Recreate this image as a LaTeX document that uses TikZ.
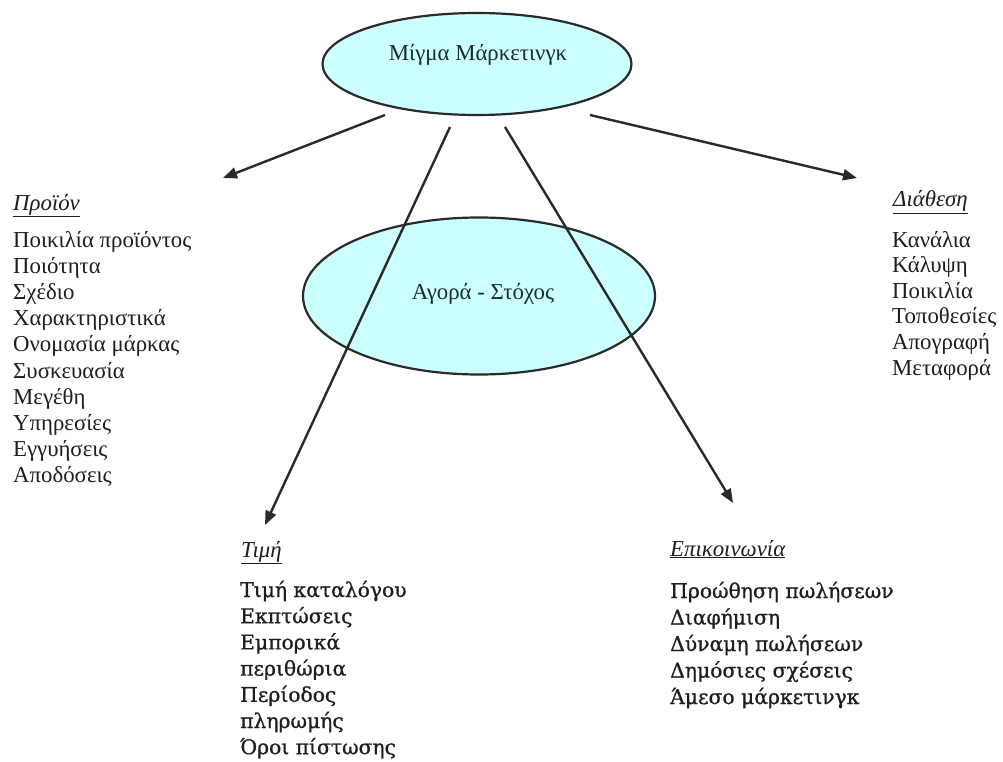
\documentclass[tikz,border=0pt]{standalone}
\usepackage{fontspec}
\setmainfont{Liberation Serif}
\newfontfamily\listfont[FakeBold=0.8]{DejaVu Serif}
\usetikzlibrary{arrows.meta,shapes.geometric}
\definecolor{ovalfill}{HTML}{CCFFFF}
\definecolor{textcol}{HTML}{1E1E1E}
\definecolor{linecol}{HTML}{2A2A2A}
\begin{document}
\begin{tikzpicture}[x=1pt,y=-1pt,
  oval/.style={ellipse, draw=linecol, line width=2.2pt, fill=ovalfill, inner sep=0pt},
  txt/.style={font=\fontsize{22.8}{26}\selectfont, text=textcol, inner sep=0pt, anchor=base west},
  blist/.style={font=\listfont\fontsize{20.3}{26}\selectfont, text=textcol, inner sep=0pt, anchor=base west},
  head/.style={font=\itshape\fontsize{22.8}{26}\selectfont, text=textcol, inner sep=0pt, anchor=base west},
  ovaltext/.style={font=\fontsize{22.8}{26}\selectfont, text=textcol!85!teal, inner sep=0pt},
  conn/.style={draw=linecol, line width=2.4pt, -{Triangle[length=14pt,width=11pt]}}
]
\useasboundingbox (0,0) rectangle (1003,762);
\fill[white] (0,0) rectangle (1003,762);

% ellipses
\node[oval, minimum width=309pt, minimum height=102pt] (mix) at (477,64) {};
\node[ovaltext] (mixtxt) at (478,55) {Μίγμα Μάρκετινγκ};
\node[oval, minimum width=352pt, minimum height=157pt] (target) at (479,296) {};
\node[ovaltext] (targettxt) at (483,294) {Αγορά - Στόχος};

% connector end points
\coordinate (s1) at (385,115);
\coordinate (e1) at (223,178);
\coordinate (s2) at (590,115);
\coordinate (e2) at (857,178);
\coordinate (s3) at (450,127);
\coordinate (e3) at (265,525);
\coordinate (s4) at (505,127);
\coordinate (e4) at (733,503);
\draw[conn] (s1) -- (e1);
\draw[conn] (s2) -- (e2);
\draw[conn] (s3) -- (e3);
\draw[conn] (s4) -- (e4);

% Product
\node[head] (hprod) at (13,210) {\underline{Προϊόν}};
\foreach \t [count=\i] in {Ποικιλία προϊόντος, Ποιότητα, Σχέδιο, Χαρακτηριστικά, Ονομασία μάρκας, Συσκευασία, Μεγέθη, Υπηρεσίες, Εγγυήσεις, Αποδόσεις}
  \node[txt] (prod\i) at (13,{247+26.2*(\i-1)}) {\t};

% Place
\node[head] (hplace) at (893,207) {\underline{Διάθεση}};
\foreach \t [count=\i] in {Κανάλια, Κάλυψη, Ποικιλία, Τοποθεσίες, Απογραφή, Μεταφορά}
  \node[txt] (place\i) at (892,{247+25.6*(\i-1)}) {\t};

% Price
\node[head] (hprice) at (241,557) {\underline{Τιμή}};
\foreach \t [count=\i] in {Τιμή καταλόγου, Εκπτώσεις, Εμπορικά, περιθώρια, Περίοδος, πληρωμής, Όροι πίστωσης}
  \node[blist] (price\i) at (240,{597+26.2*(\i-1)}) {\t};

% Promotion
\node[head] (hpromo) at (670,556) {\underline{Επικοινωνία}};
\foreach \t [count=\i] in {Προώθηση πωλήσεων, Διαφήμιση, Δύναμη πωλήσεων, Δημόσιες σχέσεις, Άμεσο μάρκετινγκ}
  \node[blist] (promo\i) at (670,{598+26.5*(\i-1)}) {\t};
\end{tikzpicture}
\end{document}
